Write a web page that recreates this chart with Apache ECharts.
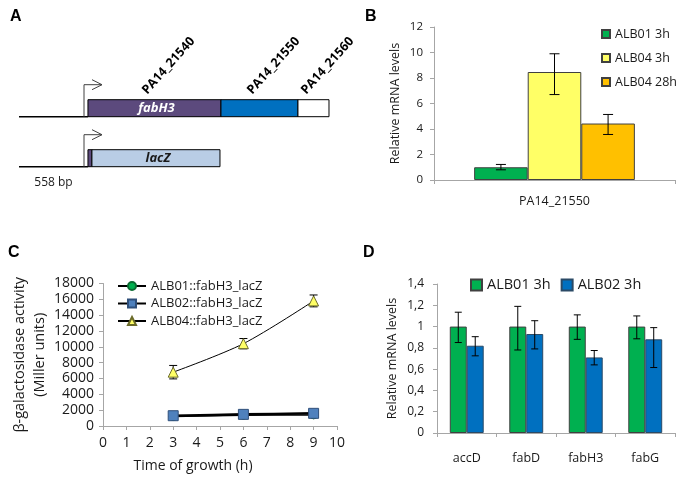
<!DOCTYPE html>
<html>
<head>
<meta charset="utf-8">
<script src="https://cdn.jsdelivr.net/npm/echarts@6/dist/echarts.min.js"></script>
<style>
  html, body { margin: 0; padding: 0; background: #fff; }
  #main { width: 683px; height: 477px; }
</style>
</head>
<body>
<div id="main"></div>
<script>
// Panel A: construct map, positions in bp from the start of the drawn upstream region
var upstreamBp = 558;
var promoterBp = 526;
var operonTags = ['PA14_21540', 'PA14_21550', 'PA14_21560'];
var operonNames = ['fabH3', '', ''];
var operonStart = [558, 1634, 2257];
var operonEnd = [1634, 2257, 2508];
var fusionNames = ['', 'lacZ'];
var fusionStart = [558, 590];
var fusionEnd = [590, 1626];

// Panel B: relative mRNA levels of PA14_21550
var bGenes = ['PA14_21550'];
var bNames = ['ALB01 3h', 'ALB04 3h', 'ALB04 28h'];
var bMeans = [1.0, 8.47, 4.43];
var bLow = [0.8, 6.7, 3.57];
var bHigh = [1.22, 9.9, 5.14];

// Panel C: beta-galactosidase activity over time
var cTimes = [3, 6, 9];
var cNames = ['ALB01::fabH3_lacZ', 'ALB02::fabH3_lacZ', 'ALB04::fabH3_lacZ'];
var cAlb01 = [1200, 1350, 1400];
var cAlb02 = [1300, 1470, 1600];
var cAlb04 = [6800, 10400, 15800];
var cAlb01Err = [150, 150, 150];
var cAlb02Err = [150, 150, 150];
var cAlb04Err = [850, 650, 750];

// Panel D: relative mRNA levels of fatty acid genes
var dGenes = ['accD', 'fabD', 'fabH3', 'fabG'];
var dNames = ['ALB01 3h', 'ALB02 3h'];
var dAlb01 = [1, 1, 1, 1];
var dAlb01Low = [0.85, 0.78, 0.88, 0.885];
var dAlb01High = [1.135, 1.19, 1.11, 1.10];
var dAlb02 = [0.82, 0.93, 0.71, 0.88];
var dAlb02Low = [0.725, 0.79, 0.64, 0.615];
var dAlb02High = [0.905, 1.055, 0.775, 0.99];

var panelLetters = ['A', 'B', 'C', 'D'];

(function() {
  var ink = '#1a1a1a';
  var axisGrey = '#a6a6a6';
  var font = '"Open Sans", "DejaVu Sans", sans-serif';
  var green = '#00b050', yellow = '#ffff66', orange = '#ffc000', blue = '#0070c0';
  var purple = '#5c4a7d', lightBlue = '#b9cde5', sqBlue = '#4f81bd';

  var chart = echarts.init(document.getElementById('main'), null, { renderer: 'canvas' });

  function valueAxis(grid, min, max, interval, fontSize, margin, fmt) {
    return {
      type: 'value', gridIndex: grid, min: min, max: max, interval: interval,
      axisLine: { show: true, lineStyle: { color: axisGrey } },
      axisTick: { show: true, length: 4, lineStyle: { color: axisGrey } },
      splitLine: { show: false },
      axisLabel: { color: ink, fontSize: fontSize, margin: margin, formatter: fmt || function(v) { return String(v); } }
    };
  }
  function categoryAxis(grid, data, fontSize, margin) {
    return {
      type: 'category', gridIndex: grid, data: data,
      axisLine: { show: true, lineStyle: { color: axisGrey } },
      axisTick: { show: true, length: 4, lineStyle: { color: axisGrey } },
      axisLabel: { color: ink, fontSize: fontSize, margin: margin }
    };
  }

  // vertical error bars; slot/slots place them over grouped bars
  function errorBars(axis, xs, lows, highs, slot, slots, gap, cap) {
    return {
      type: 'custom', xAxisIndex: axis, yAxisIndex: axis, z: 5, silent: true,
      data: lows.map(function(lo, i) { return [xs[i], lo, highs[i]]; }),
      renderItem: function(params, api) {
        var lo = api.coord([api.value(0), api.value(1)]);
        var hi = api.coord([api.value(0), api.value(2)]);
        var x = lo[0];
        if (slots) {
          var w = api.size([1, 0])[0] * (1 - gap) / slots;
          x += (slot - (slots - 1) / 2) * w;
        }
        var st = { stroke: '#000', lineWidth: 1 };
        return { type: 'group', children: [
          { type: 'line', shape: { x1: x, y1: lo[1], x2: x, y2: hi[1] }, style: st },
          { type: 'line', shape: { x1: x - cap / 2, y1: lo[1], x2: x + cap / 2, y2: lo[1] }, style: st },
          { type: 'line', shape: { x1: x - cap / 2, y1: hi[1], x2: x + cap / 2, y2: hi[1] }, style: st }
        ] };
      }
    };
  }

  function renderBackbone(params, api) {
    var row = api.value(2);
    var p0 = api.coord([api.value(0), row]);
    var p1 = api.coord([api.value(1), row]);
    var pr = api.coord([promoterBp, row]);
    var arrow = { stroke: '#404040', lineWidth: 1, fill: null };
    var kids = [
      { type: 'line', shape: { x1: p0[0], y1: p0[1], x2: p1[0], y2: p1[1] }, style: { stroke: '#000', lineWidth: 1.6 } },
      { type: 'polyline', shape: { points: [[pr[0], pr[1]], [pr[0], pr[1] - 32], [pr[0] + 18, pr[1] - 32]] }, style: arrow },
      { type: 'polyline', shape: { points: [[pr[0] + 8, pr[1] - 37], [pr[0] + 18, pr[1] - 32], [pr[0] + 8, pr[1] - 27]] }, style: arrow }
    ];
    if (params.dataIndex === 1) {
      kids.push({ type: 'text', x: (p0[0] + p1[0]) / 2, y: p0[1] + 16,
        style: { text: upstreamBp + ' bp', fill: ink, font: '12px ' + font, align: 'center', verticalAlign: 'middle' } });
    }
    return { type: 'group', children: kids };
  }

  function boxRenderer(names, tags, colors, labelColors) {
    return function(params, api) {
      var i = params.dataIndex;
      var s = api.coord([api.value(0), api.value(2)]);
      var e = api.coord([api.value(1), api.value(2)]);
      var h = 17;
      var kids = [{ type: 'rect', shape: { x: s[0], y: s[1] - h, width: e[0] - s[0], height: h },
        style: { fill: colors[i], stroke: '#000', lineWidth: 1 } }];
      if (names[i]) {
        kids.push({ type: 'text', x: (s[0] + e[0]) / 2 + 2, y: s[1] - h / 2,
          style: { text: names[i], fill: labelColors[i], font: 'italic bold 13px ' + font, align: 'center', verticalAlign: 'middle' } });
      }
      if (tags && tags[i]) {
        kids.push({ type: 'text', x: (s[0] + e[0]) / 2 - 5, y: s[1] - h - 3, rotation: 48 * Math.PI / 180,
          style: { text: tags[i], fill: '#000', font: 'bold 12.5px ' + font, align: 'left', verticalAlign: 'bottom' } });
      }
      return { type: 'group', children: kids };
    };
  }

  var series = [];

  // A
  series.push({ type: 'custom', xAxisIndex: 0, yAxisIndex: 0, silent: true, z: 1,
    data: [[0, upstreamBp, 2], [0, upstreamBp, 1]], renderItem: renderBackbone });
  series.push({ type: 'custom', xAxisIndex: 0, yAxisIndex: 0, silent: true, z: 2,
    data: operonStart.map(function(s, i) { return [s, operonEnd[i], 2]; }),
    renderItem: boxRenderer(operonNames, operonTags, [purple, blue, '#fff'], ['#fff', '#fff', '#000']) });
  series.push({ type: 'custom', xAxisIndex: 0, yAxisIndex: 0, silent: true, z: 2,
    data: fusionStart.map(function(s, i) { return [s, fusionEnd[i], 1]; }),
    renderItem: boxRenderer(fusionNames, null, [purple, lightBlue], ['#fff', ink]) });

  // B
  var bColors = [green, yellow, orange];
  bNames.forEach(function(name, i) {
    series.push({ name: name, type: 'bar', xAxisIndex: 1, yAxisIndex: 1, data: [bMeans[i]],
      barGap: 0, barCategoryGap: '33.3%',
      itemStyle: { color: bColors[i], borderColor: '#404040', borderWidth: 1 } });
    series.push(errorBars(1, [0], [bLow[i]], [bHigh[i]], i, 3, 0.333, 10));
  });

  // C
  series.push(errorBars(2, cTimes, cAlb04.map(function(v, i) { return v - cAlb04Err[i]; }),
    cAlb04.map(function(v, i) { return v + cAlb04Err[i]; }), 0, 0, 0, 8));
  series.push(errorBars(2, cTimes, cAlb01.map(function(v, i) { return v - cAlb01Err[i]; }),
    cAlb01.map(function(v, i) { return v + cAlb01Err[i]; }), 0, 0, 0, 8));
  series.push(errorBars(2, cTimes, cAlb02.map(function(v, i) { return v - cAlb02Err[i]; }),
    cAlb02.map(function(v, i) { return v + cAlb02Err[i]; }), 0, 0, 0, 8));
  var cValues = [cAlb01, cAlb02, cAlb04];
  var cSymbols = ['circle', 'rect', 'triangle'];
  var cSizes = [8, 10, 10];
  var cFill = [green, sqBlue, yellow];
  var cBorder = ['#0b6b32', '#2f4f7a', '#6b6b2a'];
  var cLineW = [1.5, 2.5, 1];
  cNames.forEach(function(name, i) {
    series.push({ name: name, type: 'line', xAxisIndex: 2, yAxisIndex: 2,
      data: cTimes.map(function(t, j) { return [t, cValues[i][j]]; }),
      symbol: cSymbols[i], symbolSize: cSizes[i], showAllSymbol: true, z: 6 + i, smooth: 0.3,
      lineStyle: { color: '#000', width: cLineW[i] },
      itemStyle: { color: cFill[i], borderColor: cBorder[i], borderWidth: 1 } });
  });

  // D
  var dMeans = [dAlb01, dAlb02], dLows = [dAlb01Low, dAlb02Low], dHighs = [dAlb01High, dAlb02High];
  var dColors = [green, blue], dBorders = ['#404040', '#2b4a66'];
  dNames.forEach(function(name, i) {
    series.push({ name: name, type: 'bar', xAxisIndex: 3, yAxisIndex: 3, data: dMeans[i],
      barGap: 0, barCategoryGap: '43%',
      itemStyle: { color: dColors[i], borderColor: dBorders[i], borderWidth: 1 } });
    series.push(errorBars(3, [0, 1, 2, 3], dLows[i], dHighs[i], i, 2, 0.43, 7));
  });

  chart.setOption({
    animation: false,
    backgroundColor: '#fff',
    textStyle: { fontFamily: font, color: ink },
    graphic: panelLetters.map(function(t, i) {
      var pos = [[10, 9], [365, 9], [8, 245], [363, 245]][i];
      return { type: 'text', left: pos[0], top: pos[1],
        style: { text: t, fill: '#000', font: 'bold 16px "Liberation Sans", Arial, sans-serif' } };
    }),
    grid: [
      { left: 19, top: 16.7, width: 331, height: 200 },
      { left: 434, top: 27, right: 8, bottom: 297 },
      { left: 103, top: 283.5, right: 346, bottom: 51 },
      { left: 437, top: 284, right: 8, bottom: 44 }
    ],
    xAxis: [
      { type: 'value', gridIndex: 0, min: 0, max: 2678, show: false },
      categoryAxis(1, bGenes, 12.5, 15),
      Object.assign(valueAxis(2, 0, 10, 1, 14, 10), {
        name: 'Time of growth (h)', nameLocation: 'middle', nameGap: 33,
        nameTextStyle: { fontSize: 14, color: ink, padding: [0, 54, 0, 0] } }),
      categoryAxis(3, dGenes, 12.5, 19)
    ],
    yAxis: [
      { type: 'value', gridIndex: 0, min: 0, max: 4, show: false },
      Object.assign(valueAxis(1, 0, 12, 2, 11.5, 11), {
        name: 'Relative mRNA levels', nameLocation: 'middle', nameGap: 32,
        nameTextStyle: { fontSize: 12.5, color: ink } }),
      Object.assign(valueAxis(2, 0, 18000, 2000, 14, 9), {
        name: 'β-galactosidase activity\n(Miller units)', nameLocation: 'middle', nameGap: 50,
        nameTextStyle: { fontSize: 14.5, lineHeight: 20, color: ink } }),
      Object.assign(valueAxis(3, 0, 1.4, 0.2, 12, 13, function(v) { return String(+v.toFixed(1)).replace('.', ','); }), {
        name: 'Relative mRNA levels', nameLocation: 'middle', nameGap: 38,
        nameTextStyle: { fontSize: 12.5, color: ink } })
    ],
    legend: [
      { data: bNames, orient: 'vertical', left: 601, top: 27.5, padding: 0, icon: 'rect', selectedMode: false,
        itemWidth: 8, itemHeight: 8, itemGap: 11,
        textStyle: { fontSize: 12.5, lineHeight: 13, color: ink } },
      { data: cNames, orient: 'vertical', left: 117, top: 279.5, padding: 0, selectedMode: false,
        itemWidth: 28, itemHeight: 10, itemGap: 4.5,
        textStyle: { fontSize: 13, lineHeight: 13, color: ink } },
      { data: dNames, orient: 'horizontal', left: 470, top: 277.5, padding: 0, icon: 'rect', selectedMode: false,
        itemWidth: 11, itemHeight: 11, itemGap: 10,
        textStyle: { fontSize: 14.5, lineHeight: 15, color: ink } }
    ],
    series: series
  });

  window.addEventListener('resize', function() { chart.resize(); });
})();
</script>
</body>
</html>
